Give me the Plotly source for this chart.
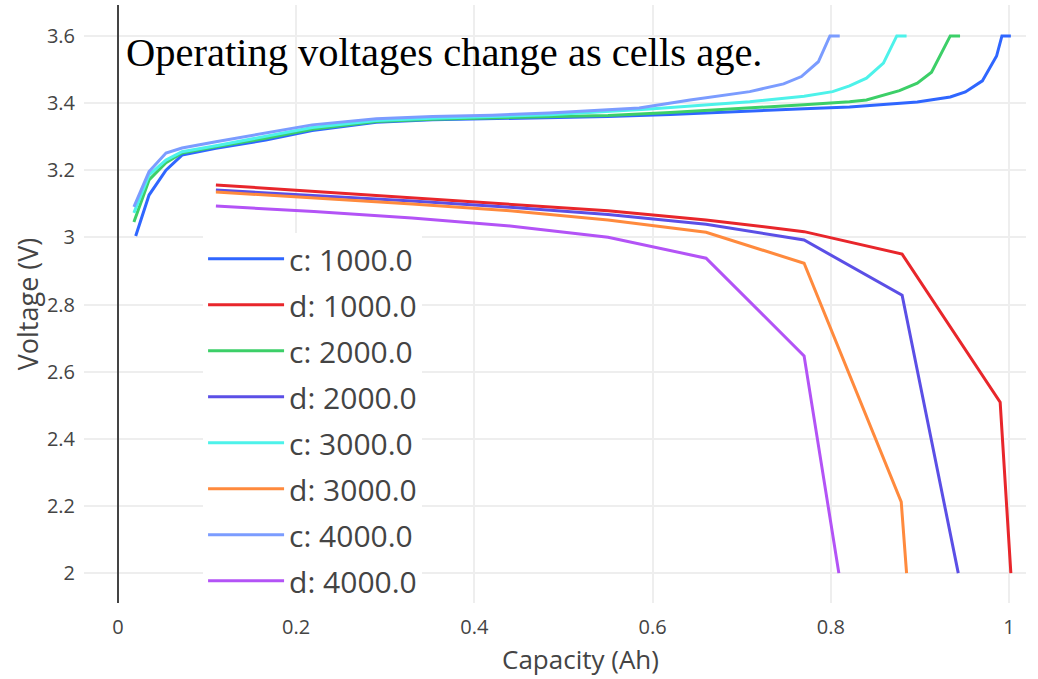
import plotly.graph_objects as go

# ---- data ----
c1000_x = [0.020, 0.035, 0.054, 0.072, 0.110, 0.166, 0.218, 0.290, 0.353, 0.420, 0.484, 0.550, 0.620,
           0.709, 0.770, 0.821, 0.860, 0.897, 0.934, 0.951, 0.970, 0.986, 0.992, 1.002]
c1000_y = [3.004, 3.126, 3.200, 3.245, 3.265, 3.290, 3.318, 3.343, 3.350, 3.353, 3.356, 3.360, 3.366,
           3.377, 3.383, 3.388, 3.395, 3.403, 3.418, 3.433, 3.466, 3.540, 3.600, 3.600]

d1000_x = [0.11, 0.22, 0.33, 0.44, 0.55, 0.66, 0.77, 0.88, 0.99, 1.002]
d1000_y = [3.156, 3.137, 3.119, 3.100, 3.079, 3.052, 3.017, 2.950, 2.509, 2.000]

c2000_x = [0.018, 0.035, 0.054, 0.072, 0.110, 0.166, 0.218, 0.290, 0.353, 0.420, 0.484, 0.550, 0.620,
           0.709, 0.770, 0.821, 0.840, 0.877, 0.897, 0.913, 0.934, 0.945]
c2000_y = [3.046, 3.171, 3.222, 3.251, 3.270, 3.295, 3.322, 3.345, 3.352, 3.355, 3.358, 3.363, 3.372,
           3.385, 3.395, 3.404, 3.409, 3.437, 3.459, 3.492, 3.600, 3.600]

d2000_x = [0.11, 0.22, 0.33, 0.44, 0.55, 0.66, 0.77, 0.88, 0.943]
d2000_y = [3.141, 3.125, 3.108, 3.090, 3.068, 3.039, 2.992, 2.828, 2.000]

c3000_x = [0.018, 0.035, 0.054, 0.072, 0.110, 0.166, 0.218, 0.290, 0.353, 0.420, 0.484, 0.597, 0.709,
           0.770, 0.802, 0.821, 0.840, 0.859, 0.874, 0.885]
c3000_y = [3.073, 3.186, 3.230, 3.255, 3.273, 3.300, 3.327, 3.348, 3.355, 3.360, 3.365, 3.382, 3.404,
           3.420, 3.434, 3.451, 3.474, 3.519, 3.600, 3.600]

d3000_x = [0.11, 0.22, 0.33, 0.44, 0.55, 0.66, 0.77, 0.879, 0.885]
d3000_y = [3.135, 3.118, 3.099, 3.079, 3.052, 3.015, 2.923, 2.212, 2.000]

c4000_x = [0.018, 0.035, 0.054, 0.072, 0.110, 0.166, 0.218, 0.290, 0.353, 0.420, 0.484, 0.585, 0.642,
           0.709, 0.747, 0.767, 0.786, 0.799, 0.810]
c4000_y = [3.091, 3.196, 3.251, 3.266, 3.285, 3.311, 3.335, 3.353, 3.360, 3.364, 3.370, 3.385, 3.409,
           3.434, 3.457, 3.479, 3.523, 3.600, 3.600]

d4000_x = [0.11, 0.22, 0.33, 0.44, 0.55, 0.66, 0.77, 0.809]
d4000_y = [3.093, 3.077, 3.058, 3.034, 3.000, 2.938, 2.647, 2.000]

series_names = ["c: 1000.0", "d: 1000.0", "c: 2000.0", "d: 2000.0",
                "c: 3000.0", "d: 3000.0", "c: 4000.0", "d: 4000.0"]
series_x = [c1000_x, d1000_x, c2000_x, d2000_x, c3000_x, d3000_x, c4000_x, d4000_x]
series_y = [c1000_y, d1000_y, c2000_y, d2000_y, c3000_y, d3000_y, c4000_y, d4000_y]
series_colors = ["#2f66ff", "#e8262b", "#3ccf68", "#5b4fe6",
                 "#4df2ea", "#ff8a3d", "#7b9cff", "#b353f6"]

title_text = "Operating voltages change as cells age."
x_title = "Capacity (Ah)"
y_title = "Voltage (V)"

fig = go.Figure()
for name, xs, ys, col in zip(series_names, series_x, series_y, series_colors):
    fig.add_trace(go.Scatter(x=xs, y=ys, mode="lines", name=name, legendgroup=name,
                             line=dict(color=col, width=3)))

fig.update_layout(
    template="none",
    width=1038, height=679,
    margin=dict(l=84, r=12, t=5, b=76),
    paper_bgcolor="white", plot_bgcolor="white",
    font=dict(family="Open Sans", color="#444", size=20),
    showlegend=True,
    legend=dict(x=0.1264, y=0.619, xanchor="left", yanchor="top",
                bgcolor="white", borderwidth=0,
                font=dict(size=30, color="#444"),
                itemwidth=76, tracegroupgap=4),
    xaxis=dict(range=[-0.038, 1.019], dtick=0.2, tick0=0, showgrid=True,
               gridcolor="#eee", gridwidth=1.5, zeroline=True, zerolinecolor="#444",
               zerolinewidth=2, showline=False, ticks="", ticklabelstandoff=10,
               tickfont=dict(size=20)),
    yaxis=dict(range=[1.911, 3.692], dtick=0.2, tick0=0, showgrid=True,
               gridcolor="#eee", gridwidth=1.5, zeroline=False, showline=False, ticks="",
               ticklabelstandoff=8,
               title=dict(text=y_title, font=dict(size=27), standoff=0),
               tickfont=dict(size=20)),
    annotations=[
        dict(text=title_text, xref="paper", yref="paper", x=0.042, y=0.962,
             xanchor="left", yanchor="top", showarrow=False,
             font=dict(family="Liberation Serif", size=40.5, color="black")),
        dict(text=x_title, xref="paper", yref="paper", x=0.527, y=-0.1246,
             xanchor="center", yanchor="bottom", showarrow=False, borderpad=0,
             font=dict(family="Open Sans", size=26, color="#444")),
    ],
)

fig.write_html("out.html")
